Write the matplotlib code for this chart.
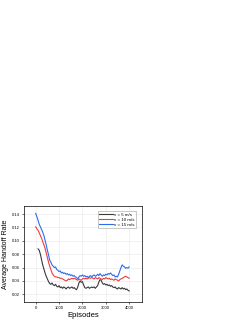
import numpy as np
import matplotlib
matplotlib.use("Agg")
import matplotlib.pyplot as plt

plt.rcParams['font.family'] = ['Liberation Sans', 'DejaVu Sans']

labels = ["v = 5 m/s", "v = 10 m/s", "v = 15 m/s"]
colors = ["#3a3a3a", "#f03c3c", "#2a6df0"]

v15 = [0.141, 0.136, 0.131, 0.125, 0.121, 0.117, 0.113, 0.108, 0.101, 0.094,
       0.086, 0.079, 0.071, 0.068, 0.064, 0.062, 0.060, 0.061, 0.057, 0.056,
       0.054, 0.055, 0.052, 0.053, 0.051, 0.052, 0.050, 0.051, 0.049, 0.050,
       0.048, 0.049, 0.047, 0.048, 0.046, 0.045, 0.043, 0.046, 0.048, 0.047,
       0.049, 0.047, 0.048, 0.046, 0.047, 0.045, 0.047, 0.048, 0.046, 0.048,
       0.049, 0.047, 0.048, 0.050, 0.048, 0.051, 0.049, 0.047, 0.049, 0.048,
       0.050, 0.049, 0.051, 0.050, 0.052, 0.050, 0.048, 0.049, 0.046, 0.047,
       0.046, 0.050, 0.055, 0.060, 0.064, 0.062, 0.061, 0.059, 0.060, 0.059,
       0.061]

v10 = [0.121, 0.118, 0.116, 0.112, 0.108, 0.104, 0.099, 0.094, 0.089, 0.082,
       0.075, 0.068, 0.062, 0.057, 0.052, 0.049, 0.047, 0.046, 0.046, 0.045,
       0.045, 0.044, 0.044, 0.043, 0.042, 0.041, 0.040, 0.041, 0.043, 0.042,
       0.043, 0.044, 0.043, 0.044, 0.043, 0.042, 0.041, 0.043, 0.042, 0.041,
       0.043, 0.044, 0.043, 0.044, 0.043, 0.044, 0.045, 0.044, 0.045, 0.044,
       0.043, 0.045, 0.044, 0.043, 0.045, 0.044, 0.043, 0.042, 0.044, 0.043,
       0.045, 0.044, 0.043, 0.044, 0.042, 0.043, 0.042, 0.041, 0.043, 0.042,
       0.041, 0.040, 0.042, 0.043, 0.044, 0.045, 0.046, 0.047, 0.046, 0.045,
       0.044]

v5 = [0.088, 0.086, 0.080, 0.072, 0.064, 0.058, 0.052, 0.047,
      0.043, 0.039, 0.036, 0.035, 0.037, 0.034, 0.033, 0.035, 0.032, 0.031,
      0.033, 0.030, 0.031, 0.029, 0.031, 0.030, 0.028, 0.030, 0.031, 0.029,
      0.030, 0.031, 0.029, 0.030, 0.028, 0.027, 0.031, 0.037, 0.040, 0.038,
      0.039, 0.034, 0.030, 0.029, 0.030, 0.031, 0.029, 0.030, 0.031, 0.030,
      0.031, 0.029, 0.031, 0.033, 0.038, 0.042, 0.041, 0.037, 0.035, 0.036,
      0.034, 0.035, 0.033, 0.034, 0.032, 0.033, 0.031, 0.030, 0.031, 0.029,
      0.028, 0.030, 0.029, 0.028, 0.030, 0.028, 0.029, 0.027, 0.028, 0.026,
      0.025]

ep15 = np.arange(len(v15)) * 50
ep10 = np.arange(len(v10)) * 50
ep5 = 100 + np.arange(len(v5)) * 50

xticks = [0, 1000, 2000, 3000, 4000]
yticks = [0.02, 0.04, 0.06, 0.08, 0.10, 0.12, 0.14]

fig = plt.figure(figsize=(2.49, 3.23), dpi=100)
ax = fig.add_axes([0.0964, 0.065, 0.474, 0.297])

for ep, v, c, l in zip([ep5, ep10, ep15], [v5, v10, v15], colors, labels):
    ax.plot(ep, v, color=c, lw=0.8, label=l)

ax.set_xlim(-500, 4550)
ax.set_ylim(0.0085, 0.152)
ax.set_xticks(xticks)
ax.set_xticklabels([str(t) for t in xticks])
ax.set_yticks(yticks)
ax.set_yticklabels([f"{t:.2f}" for t in yticks])
ax.grid(True, color="#e6e6e6", lw=0.4)
ax.set_axisbelow(True)
ax.tick_params(labelsize=3.0, length=1.5, width=0.4, pad=1.5)
for s in ax.spines.values():
    s.set_linewidth(0.5)
ax.set_xlabel("Episodes", fontsize=5.5, labelpad=1)
ax.set_ylabel("Average Handoff Rate", fontsize=5, labelpad=2)
leg = ax.legend(loc="upper right", fontsize=3.2, frameon=True, fancybox=False,
                edgecolor="#888888", handlelength=3, borderpad=0.3,
                labelspacing=0.2, handletextpad=0.4, bbox_to_anchor=(0.97, 0.97))
leg.get_frame().set_linewidth(0.4)

fig.savefig("out.png", dpi=100)
